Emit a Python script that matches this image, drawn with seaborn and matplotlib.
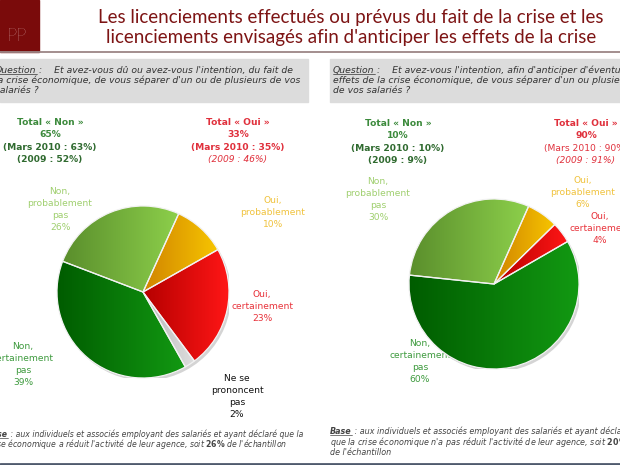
import numpy as np
import matplotlib
matplotlib.use("Agg")
import matplotlib.pyplot as plt
from matplotlib.patches import Rectangle, Circle
import seaborn as sns

# ---- data ----
left_labels = ["Oui, probablement", "Oui, certainement", "Ne se prononcent pas",
               "Non, certainement pas", "Non, probablement pas"]
left_values = [10, 23, 2, 39, 26]
right_labels = ["Oui, probablement", "Oui, certainement",
                "Non, certainement pas", "Non, probablement pas"]
right_values = [6, 4, 60, 30]

total_non = [65, 10]
total_non_mars2010 = [63, 10]
total_non_2009 = [52, 9]
total_oui = [33, 90]
total_oui_mars2010 = [35, 90]
total_oui_2009 = [46, 91]
base_share = [26, 20]

title_lines = ["Les licenciements effectués ou prévus du fait de la crise et les",
               "licenciements envisagés afin d'anticiper les effets de la crise"]

# gradient (left -> right) for every answer
gradients = {
    "Oui, probablement": ("#d08400", "#f7c500"),
    "Oui, certainement": ("#b50000", "#ff1616"),
    "Ne se prononcent pas": ("#b8b8b8", "#dedede"),
    "Non, certainement pas": ("#005c00", "#129912"),
    "Non, probablement pas": ("#5a8e2c", "#8dd04b"),
}

sns.set_theme(style="white")
plt.rcParams["font.family"] = ["DejaVu Sans"]
plt.rcParams["mathtext.fontset"] = "dejavusans"

fig = plt.figure(figsize=(6.2, 4.65), dpi=100)
bg = fig.add_axes([0, 0, 1, 1])
bg.set_xlim(0, 620)
bg.set_ylim(465, 0)
bg.axis("off")
renderer = fig.canvas.get_renderer()

# ---- header ----
bg.add_patch(Rectangle((0, 0), 39, 52, color="#7a0b0b", zorder=1))
bg.text(17, 36, "PP", ha="center", va="center", color="#efcfcf", fontsize=13,
        family="Lato", fontweight="light")
bg.plot([0, 620], [52.5, 52.5], color="#9c8686", lw=1.3)
for i, line in enumerate(title_lines):
    bg.text(351, 18 + i * 19.5, line, ha="center", va="center", color="#7d1414",
            fontsize=13.5, family="Lato")
bg.plot([0, 620], [463.5, 463.5], color="#4f5a6d", lw=2)

# ---- question boxes ----
def underlined(x, y, word, rest, **kw):
    t = bg.text(x, y, word, ha="left", va="baseline", **kw)
    bb = t.get_window_extent(renderer).transformed(bg.transData.inverted())
    bg.plot([bb.x0, bb.x1], [y + 1.3, y + 1.3], color=kw.get("color"), lw=0.5)
    bg.text(bb.x1, y, rest, ha="left", va="baseline", **kw)

qkw = dict(color="#333333", fontsize=6.65, style="italic")
bg.add_patch(Rectangle((0, 59), 308, 43, color="#dcdcdc", zorder=0))
bg.add_patch(Rectangle((330, 59), 290, 43, color="#dcdcdc", zorder=0))

underlined(-5, 73, "Question", " :    Et avez-vous dû ou avez-vous l'intention, du fait de", **qkw)
bg.text(-5, 83, "la crise économique, de vous séparer d'un ou de plusieurs de vos",
        ha="left", va="baseline", **qkw)
bg.text(-5, 93, "salariés ?", ha="left", va="baseline", **qkw)

underlined(333, 73, "Question", " :    Et avez-vous l'intention, afin d'anticiper d'éventuels", **qkw)
bg.text(333, 83, "effets de la crise économique, de vous séparer d'un ou plusieurs",
        ha="left", va="baseline", **qkw)
bg.text(333, 93, "de vos salariés ?", ha="left", va="baseline", **qkw)

# ---- totals ----
GREEN_T, GREEN_P = "#3c8a3c", "#2f6a2f"
RED_T = "#e0303c"
tkw = dict(ha="center", va="center", fontsize=6.6)
for k, (xn, xo, y0) in enumerate([(50, 238, 122), (398, 586, 123)]):
    bg.text(xn, y0, "Total « Non »", color=GREEN_T, fontweight="bold", **tkw)
    bg.text(xn, y0 + 12, f"{total_non[k]}%", color=GREEN_T, fontweight="bold", **tkw)
    bg.text(xn, y0 + 25, f"(Mars 2010 : {total_non_mars2010[k]}%)", color=GREEN_P,
            fontweight="bold", **tkw)
    bg.text(xn, y0 + 37, f"(2009 : {total_non_2009[k]}%)", color=GREEN_P,
            fontweight="bold", **tkw)
    bg.text(xo, y0, "Total « Oui »", color=RED_T, fontweight="bold", **tkw)
    bg.text(xo, y0 + 12, f"{total_oui[k]}%", color=RED_T, fontweight="bold", **tkw)
    bg.text(xo, y0 + 25, f"(Mars 2010 : {total_oui_mars2010[k]}%)", color=RED_T,
            fontweight="bold" if k == 0 else "normal", **tkw)
    bg.text(xo, y0 + 37, f"(2009 : {total_oui_2009[k]}%)", color=RED_T,
            style="italic", **tkw)

# ---- pies ----
def gradient_pie(center, radius, labels, values, start):
    cx, cy = center
    ax = fig.add_axes([(cx - radius) / 620, (465 - cy - radius) / 465,
                       2 * radius / 620, 2 * radius / 465])
    ax.add_patch(Circle((0.025, -0.03), 1.0, facecolor="#d4d4d4", edgecolor="none", zorder=1))
    wedges, _ = ax.pie(values, startangle=start, counterclock=False, radius=1,
                       wedgeprops=dict(facecolor="none", edgecolor="#f2f2f2",
                                       linewidth=0.9, zorder=3))
    for w, lab in zip(wedges, labels):
        ext = w.get_path().get_extents()
        cmap = sns.blend_palette(list(gradients[lab]), as_cmap=True)
        im = ax.imshow(np.linspace(0, 1, 256)[None, :], cmap=cmap, aspect="auto",
                       origin="lower", extent=[ext.x0, ext.x1, ext.y0, ext.y1], zorder=2)
        im.set_clip_path(w)
    ax.set_xlim(-1, 1)
    ax.set_ylim(-1, 1)
    ax.axis("off")
    return ax

gradient_pie((143, 292), 86, left_labels, left_values, 65.5)
gradient_pie((494, 284), 85, right_labels, right_values, 66)

# ---- slice labels ----
LG, YE, RE, DG, BK = "#9fcf6e", "#f0c23c", "#e8323a", "#3d9a3d", "#111111"

def stack(x, y, lines, color, step=12):
    for i, s in enumerate(lines):
        bg.text(x, y + i * step, s, ha="center", va="center", color=color, fontsize=6.6)

lv = dict(zip(left_labels, left_values))
rv = dict(zip(right_labels, right_values))
stack(60, 191, ["Non,", "probablement", "pas", f"{lv['Non, probablement pas']}%"], LG)
stack(273, 200, ["Oui,", "probablement", f"{lv['Oui, probablement']}%"], YE)
stack(262, 294, ["Oui,", "certainement", f"{lv['Oui, certainement']}%"], RE)
stack(237, 378, ["Ne se", "prononcent", "pas", f"{lv['Ne se prononcent pas']}%"], BK)
stack(23, 346, ["Non,", "certainement", "pas", f"{lv['Non, certainement pas']}%"], DG)

stack(378, 181, ["Non,", "probablement", "pas", f"{rv['Non, probablement pas']}%"], LG)
stack(583, 180, ["Oui,", "probablement", f"{rv['Oui, probablement']}%"], YE)
stack(600, 216, ["Oui,", "certainement", f"{rv['Oui, certainement']}%"], RE)
stack(420, 343, ["Non,", "certainement", "pas", f"{rv['Non, certainement pas']}%"], DG)

# ---- footnotes ----
fkw = dict(color="#444444", fontsize=5.6, style="italic")
bkw = dict(fkw, fontweight="bold")
t = bg.text(-13, 437, "Base", ha="left", va="baseline", **bkw)
bb = t.get_window_extent(renderer).transformed(bg.transData.inverted())
bg.plot([bb.x0, bb.x1], [438.3, 438.3], color="#444444", lw=0.5)
bg.text(bb.x1, 437, " : aux individuels et associés employant des salariés et ayant déclaré que la",
        ha="left", va="baseline", **fkw)
bg.text(-13, 447, "crise économique a réduit l'activité de leur agence, soit "
        + r"$\mathbf{" + str(base_share[0]) + r"\%}$" + " de l'échantillon",
        ha="left", va="baseline", **fkw)

fkw_r = dict(fkw, fontsize=5.8)
t = bg.text(330, 434, "Base", ha="left", va="baseline", **dict(fkw_r, fontweight="bold"))
bb = t.get_window_extent(renderer).transformed(bg.transData.inverted())
bg.plot([bb.x0, bb.x1], [435.3, 435.3], color="#444444", lw=0.5)
bg.text(bb.x1, 434, " : aux individuels et associés employant des salariés et ayant déclaré",
        ha="left", va="baseline", **fkw_r)
bg.text(330, 445, "que la crise économique n'a pas réduit l'activité de leur agence, soit "
        + r"$\mathbf{" + str(base_share[1]) + r"\%}$", ha="left", va="baseline", **fkw_r)
bg.text(330, 455, "de l'échantillon", ha="left", va="baseline", **fkw_r)

fig.savefig("out.png", dpi=100)
